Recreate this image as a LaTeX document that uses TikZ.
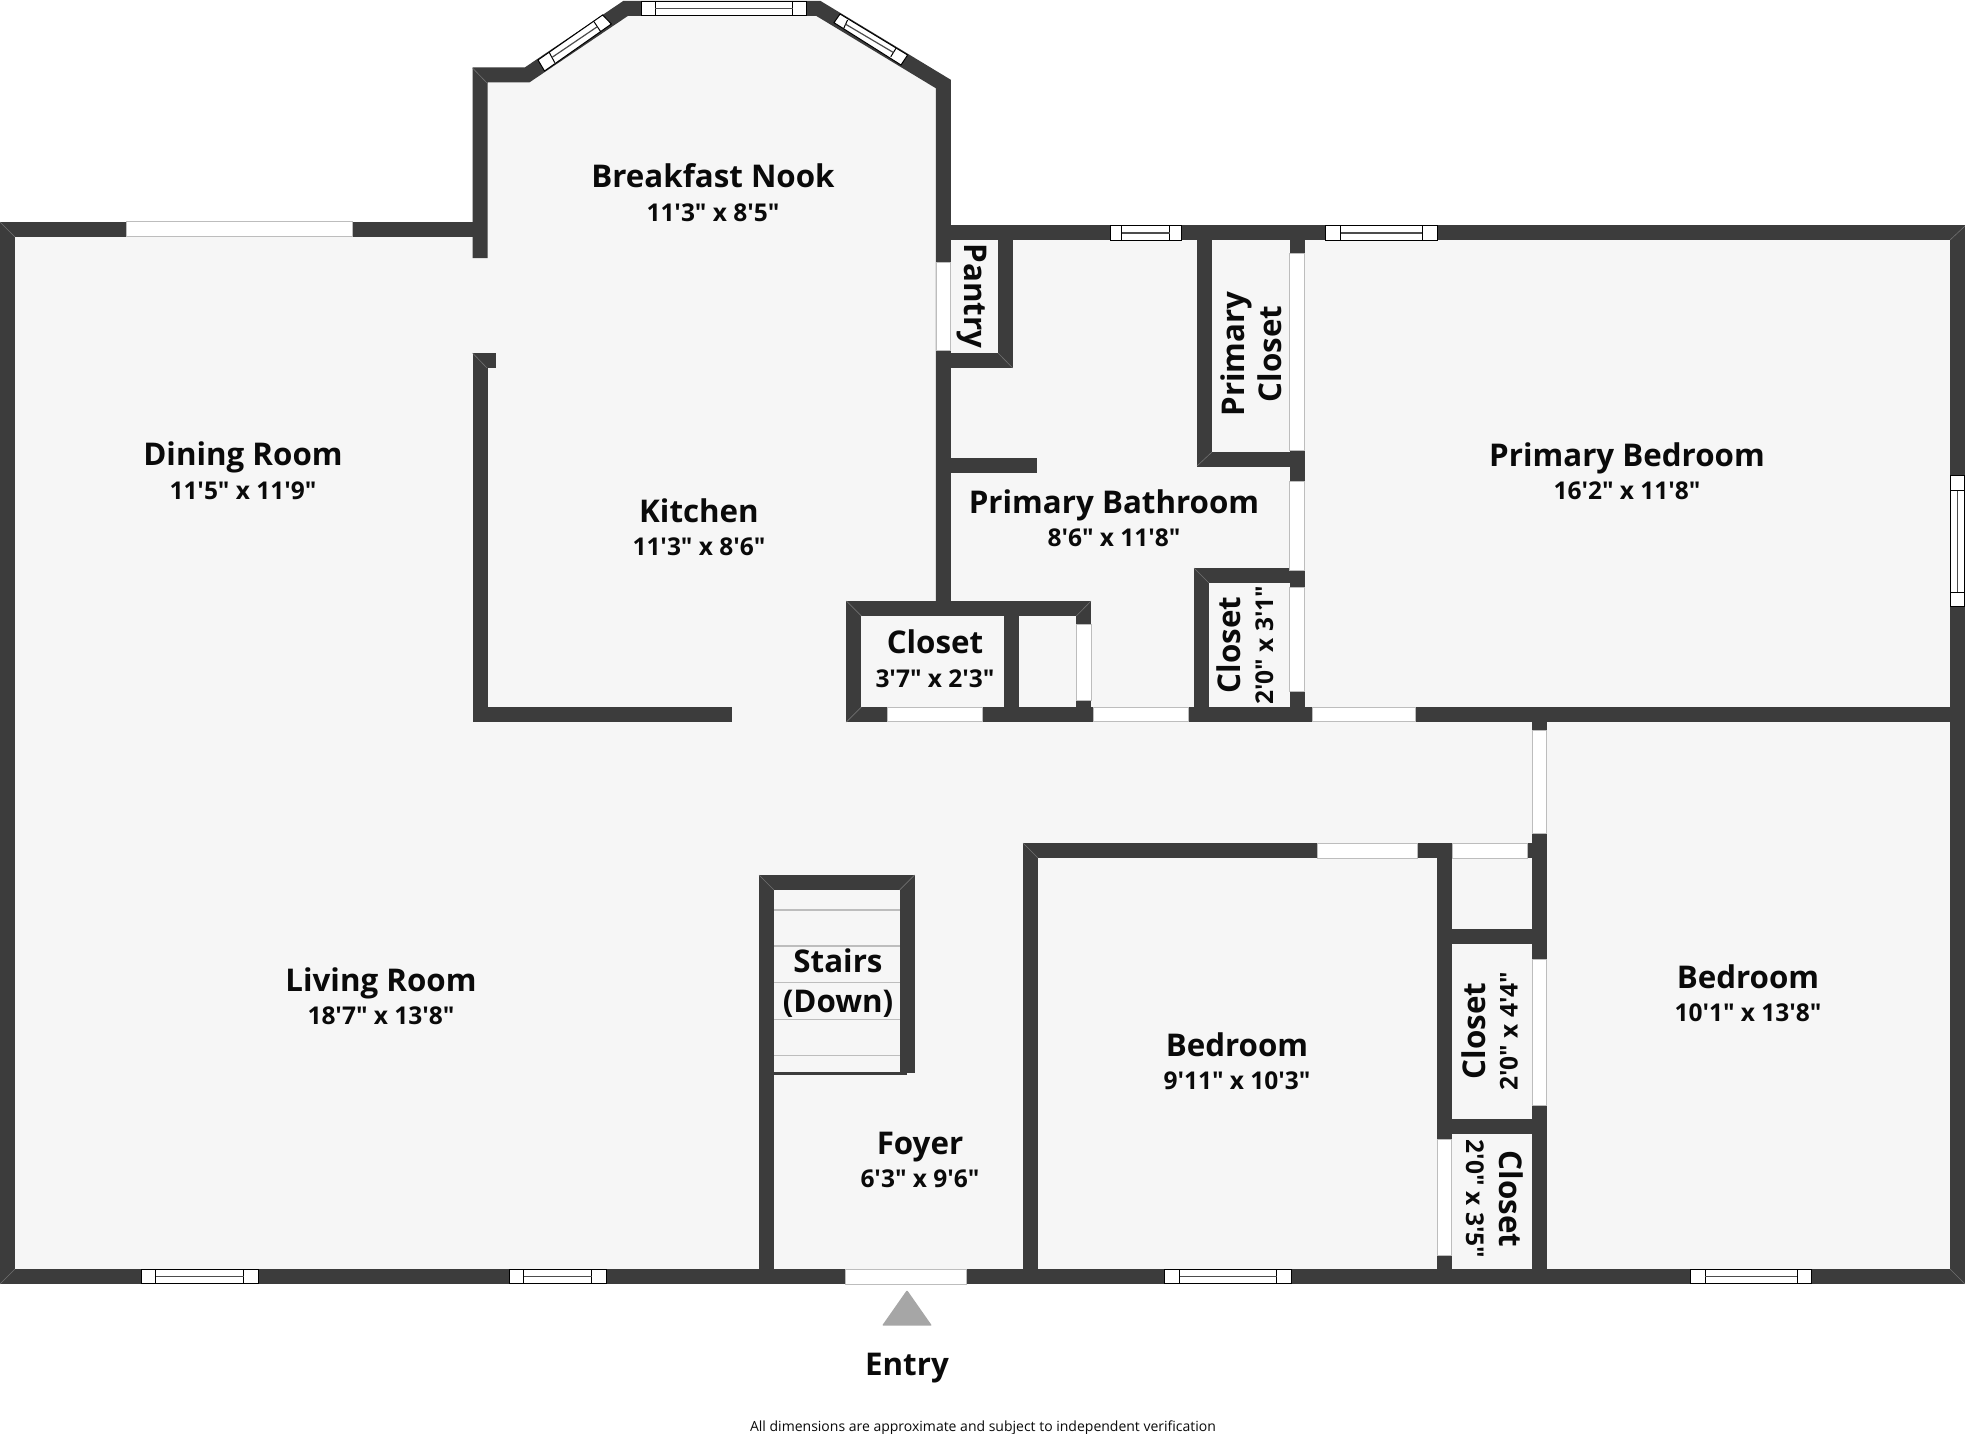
\documentclass[tikz,border=0pt]{standalone}
\usepackage{fontspec}
\setmainfont{Open Sans}
\newfontfamily\labelfont{Open Sans}
\definecolor{wallgrey}{HTML}{3C3C3C}
\definecolor{floorgrey}{HTML}{F6F6F6}
\definecolor{edgegrey}{HTML}{BDBDBD}
\definecolor{arrowgrey}{HTML}{A6A6A6}
\definecolor{inkblack}{HTML}{0A0A0A}
\definecolor{seamgrey}{HTML}{707070}
\tikzset{
  wall/.style={draw=wallgrey, line width=15pt, line join=miter},
  wallseam/.style={draw=seamgrey, line width=0.6pt},
  doorgap/.style={fill=white, draw=edgegrey, line width=1pt},
  windowpane/.style={fill=white, draw=black, line width=1pt},
  windowbar/.style={draw=black, line width=1pt},
  windowmid/.style={draw=black!70, line width=1.2pt},
  stairstep/.style={draw=edgegrey, line width=1.2pt},
  roomname/.style={font=\labelfont\fontsize{31.3}{37}\selectfont\bfseries, text=inkblack, inner sep=0pt, text height=22pt, text depth=0pt},
  roomsize/.style={font=\labelfont\fontsize{24.5}{30}\selectfont\bfseries, text=inkblack, inner sep=0pt, text height=18pt, text depth=0pt},
}
\begin{document}
\begin{tikzpicture}[x=1pt, y=-1pt]
  \useasboundingbox (0, 0) rectangle (1965, 1434);

  % floor
  \fill[floorgrey] (0, 222) -- (472.5, 222) -- (472.5, 68) -- (525, 68) -- (624, 1) -- (820, 1)
    -- (950, 80) -- (950, 226) -- (1965, 226) -- (1965, 1284) -- (0, 1284) -- cycle;

  % stairs
  \foreach \yy in {910, 946, 982.7, 1019.3, 1055.7}
    \draw[stairstep] (774, \yy) -- (900, \yy);
  \draw[wallgrey, line width=3.3pt] (774, 1073.3) -- (907, 1073.3);

  % walls
  \draw[wall] (480, 229.5) -- (7.5, 229.5) -- (7.5, 1276.5) -- (1957.5, 1276.5) -- (1957.5, 233) -- (936, 233);
  \draw[wall] (480, 258) -- (480, 75) -- (527, 75) -- (625.5, 8.5) -- (818.5, 8.5) -- (943.3, 84) -- (943.3, 608);
  \draw[wall] (495.5, 360.5) -- (480, 360.5) -- (480, 714.5) -- (731.7, 714.5);
  \draw[wall] (1005.4, 233) -- (1005.4, 360.7) -- (943.3, 360.7);
  \draw[wall] (943.3, 465.3) -- (1036.7, 465.3);
  \draw[wall] (1083.7, 714.5) -- (1083.7, 608.6) -- (853.9, 608.6) -- (853.9, 714.5) -- (1965, 714.5);
  \draw[wall] (1011.3, 608.6) -- (1011.3, 714.5);
  \draw[wall] (1204.6, 233) -- (1204.6, 459) -- (1297, 459);
  \draw[wall] (1297, 233) -- (1297, 714.5);
  \draw[wall] (1297, 575.6) -- (1201.3, 575.6) -- (1201.3, 714.5);
  \draw[wall] (766.5, 1276.5) -- (766.5, 882.5) -- (907, 882.5) -- (907, 1073);
  \draw[wall] (1030.5, 1276.5) -- (1030.5, 850.8) -- (1539.4, 850.8);
  \draw[wall] (1444.3, 850.8) -- (1444.3, 1276.5);
  \draw[wall] (1539.4, 714.5) -- (1539.4, 1276.5);
  \draw[wall] (1444.3, 936.8) -- (1539.4, 936.8);
  \draw[wall] (1444.3, 1126.5) -- (1539.4, 1126.5);

  % corner seams
  \foreach \xa/\ya/\xb/\yb in {0/222/15/237, 0/1284/15/1269, 1965/1284/1950/1269, 1965/226/1950/240,
      472.5/68/487/83, 472.5/353/487/368, 1012.7/368/998/353, 1197/466/1212/452, 1194/568/1209/583,
      846.4/601/861.4/616, 846.4/722/861.4/707, 1091/601/1076.3/616, 759/875/774/890, 914.6/875/899.6/890,
      1023/843/1038/858}
    \draw[wallseam] (\xa, \ya) -- (\xb, \yb);

  % openings
  \foreach \xa/\ya/\xb/\yb in {126.7/222/352.7/237, 936.4/262/950.7/350, 1289.7/253/1304.3/450.7,
      1289.7/481.3/1304.3/570.7, 1289.7/587.3/1304.3/691.7, 1076.3/624.3/1091/700.3,
      887/707/982/721.7, 1093.7/707/1188/721.7, 1312.7/707/1415/721.7,
      1317/843.3/1417/858.3, 1452.8/843.3/1527.4/858.3, 1532/730/1546.8/833,
      1532/959/1546.8/1105, 1437/1139/1451.6/1255.5, 845.4/1269/966.4/1284}
    \draw[doorgap] (\xa, \ya) rectangle (\xb, \yb);

  % windows along x
  \foreach \xa/\xb/\xc/\xd/\yy in {641/655/792.5/806.6/8.5, 1110/1121.7/1169.7/1181.3/233,
      1325.7/1340.7/1422.3/1437.3/233, 141.5/155.8/243.8/258.5/1276.5, 509/523.7/591.5/606/1276.5,
      1164/1179.5/1276.7/1291.6/1276.5, 1690.8/1705.4/1797/1811.7/1276.5}{
    \draw[windowpane] (\xa, \yy-7.2) rectangle (\xd, \yy+7.2);
    \draw[windowbar] (\xb, \yy-7.2) -- (\xb, \yy+7.2);
    \draw[windowbar] (\xc, \yy-7.2) -- (\xc, \yy+7.2);
    \draw[windowmid] (\xb, \yy) -- (\xc, \yy);
  }

  % window in the east wall
  \draw[windowpane] (1950.6, 475) rectangle (1964.4, 606.7);
  \draw[windowbar] (1950.6, 490.7) -- (1964.4, 490.7);
  \draw[windowbar] (1950.6, 592.3) -- (1964.4, 592.3);
  \draw[windowmid] (1957.4, 490.7) -- (1957.4, 592.3);

  % bay windows
  \draw[windowpane] (538, 60) -- (602.6, 15) -- (611.4, 24) -- (544.5, 71) -- cycle;
  \draw[windowbar] (549, 52) -- (554.8, 62.7);
  \draw[windowbar] (594, 21.7) -- (600.7, 31.7);
  \draw[windowmid] (552, 57.4) -- (597.3, 26.7);
  \draw[windowpane] (840, 14) -- (907.6, 55) -- (901, 65) -- (834, 22.7) -- cycle;
  \draw[windowbar] (847.6, 20) -- (843.7, 28.3);
  \draw[windowbar] (896, 48.3) -- (890.8, 56.7);
  \draw[windowmid] (845.6, 24.2) -- (893.4, 52.5);

  % entry marker
  \fill[arrowgrey, rounded corners=1pt] (907, 1290) -- (932, 1325.7) -- (882, 1325.7) -- cycle;

  % labels
  \node[roomname] (nook) at (713, 177) {Breakfast Nook};
  \node[roomsize] (nooksize) at (713, 213) {11'3" x 8'5"};
  \node[roomname] (dining) at (243, 454) {Dining Room};
  \node[roomsize] (diningsize) at (243, 490) {11'5" x 11'9"};
  \node[roomname] (kitchen) at (699, 511) {Kitchen};
  \node[roomsize] (kitchensize) at (699, 546) {11'3" x 8'6"};
  \node[roomname] (bath) at (1114, 502.5) {Primary Bathroom};
  \node[roomsize] (bathsize) at (1114, 537.6) {8'6" x 11'8"};
  \node[roomname] (primary) at (1627, 455) {Primary Bedroom};
  \node[roomsize] (primarysize) at (1627, 490) {16'2" x 11'8"};
  \node[roomname] (closeta) at (935, 642) {Closet};
  \node[roomsize] (closetasize) at (935, 678) {3'7" x 2'3"};
  \node[roomname] (living) at (381, 980) {Living Room};
  \node[roomsize] (livingsize) at (381, 1015) {18'7" x 13'8"};
  \node[roomname] (stairs) at (838, 961) {Stairs};
  \node[roomname] (stairsdown) at (838, 1001) {(Down)};
  \node[roomname] (foyer) at (920, 1143) {Foyer};
  \node[roomsize] (foyersize) at (920, 1178) {6'3" x 9'6"};
  \node[roomname] (bedrooma) at (1237, 1045) {Bedroom};
  \node[roomsize] (bedroomasize) at (1237, 1080) {9'11" x 10'3"};
  \node[roomname] (bedroomb) at (1748, 977) {Bedroom};
  \node[roomsize] (bedroombsize) at (1748, 1012.6) {10'1" x 13'8"};
  \node[roomname, rotate=-90] (pantry) at (975.5, 296) {Pantry};
  \node[roomname, rotate=90] (primcloseta) at (1233, 354) {Primary};
  \node[roomname, rotate=90] (primclosetb) at (1270, 354) {Closet};
  \node[roomname, rotate=90] (closetb) at (1229, 645) {Closet};
  \node[roomsize, rotate=90] (closetbsize) at (1264, 645) {2'0" x 3'1"};
  \node[roomname, rotate=90] (closetc) at (1474, 1031) {Closet};
  \node[roomsize, rotate=90] (closetcsize) at (1508.5, 1031) {2'0" x 4'4"};
  \node[roomname, rotate=-90] (closetd) at (1510, 1199) {Closet};
  \node[roomsize, rotate=-90] (closetdsize) at (1475, 1199) {2'0" x 3'5"};
  \node[roomname] (entry) at (907, 1364) {Entry};
  \node[font=\labelfont\fontsize{14}{17}\selectfont, text=inkblack, inner sep=0pt] (note) at (983, 1428) {All dimensions are approximate and subject to independent verification};
\end{tikzpicture}
\end{document}
